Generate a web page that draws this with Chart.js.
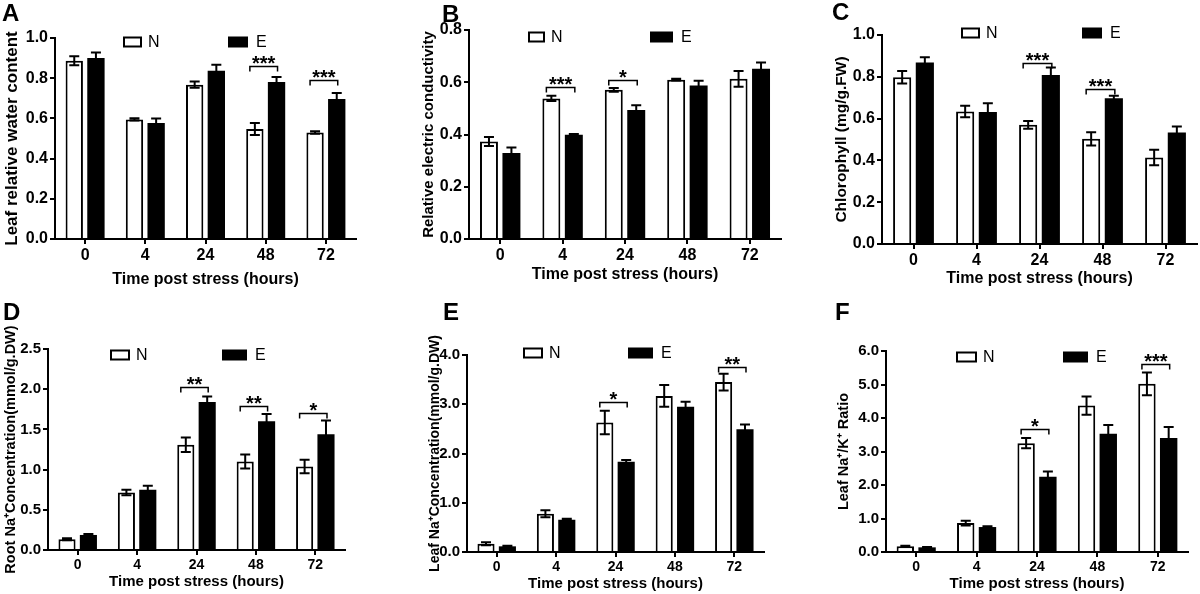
<!DOCTYPE html>
<html>
<head>
<meta charset="utf-8">
<script src="https://cdn.jsdelivr.net/npm/chart.js@4.4.1/dist/chart.umd.min.js"></script>
<style>
  body { margin: 0; background: #fff; width: 1200px; height: 594px; position: relative; overflow: hidden; }
  canvas { position: absolute; }
</style>
</head>
<body>
<canvas id="cA" width="400" height="290" style="left:0;top:0"></canvas>
<canvas id="cB" width="400" height="290" style="left:400px;top:0"></canvas>
<canvas id="cC" width="400" height="290" style="left:800px;top:0"></canvas>
<canvas id="cD" width="400" height="304" style="left:0;top:290px"></canvas>
<canvas id="cE" width="400" height="304" style="left:400px;top:290px"></canvas>
<canvas id="cF" width="400" height="304" style="left:800px;top:290px"></canvas>
<script>
const hours = ['0', '4', '24', '48', '72'];

// A - leaf relative water content
const rwcN = [0.887, 0.595, 0.768, 0.547, 0.530];
const rwcNErr = [0.022, 0.006, 0.016, 0.030, 0.006];
const rwcE = [0.900, 0.577, 0.837, 0.781, 0.697];
const rwcEErr = [0.028, 0.022, 0.030, 0.025, 0.029];
const rwcSig = [[3, 0.86, '***'], [4, 0.793, '***']];

// B - relative electric conductivity
const recN = [0.373, 0.538, 0.571, 0.610, 0.613];
const recNErr = [0.017, 0.010, 0.007, 0.003, 0.030];
const recE = [0.329, 0.399, 0.494, 0.588, 0.652];
const recEErr = [0.021, 0.003, 0.018, 0.018, 0.024];
const recSig = [[1, 0.583, '***'], [2, 0.609, '*']];

// C - chlorophyll
const chlN = [0.798, 0.634, 0.570, 0.503, 0.414];
const chlNErr = [0.030, 0.027, 0.019, 0.032, 0.037];
const chlE = [0.868, 0.631, 0.809, 0.697, 0.533];
const chlEErr = [0.025, 0.043, 0.035, 0.012, 0.029];
const chlSig = [[2, 0.865, '***'], [3, 0.742, '***']];

// D - root Na+
const rootN = [0.133, 0.714, 1.308, 1.100, 1.038];
const rootNErr = [0.012, 0.034, 0.090, 0.087, 0.083];
const rootE = [0.187, 0.748, 1.840, 1.600, 1.441];
const rootEErr = [0.012, 0.050, 0.070, 0.090, 0.170];
const rootSig = [[2, 2.03, '**'], [3, 1.79, '**'], [4, 1.71, '*']];

// E - leaf Na+
const leafN = [0.169, 0.777, 2.63, 3.17, 3.45];
const leafNErr = [0.030, 0.070, 0.24, 0.22, 0.17];
const leafE = [0.115, 0.655, 1.83, 2.95, 2.49];
const leafEErr = [0.010, 0.020, 0.04, 0.10, 0.10];
const leafSig = [[2, 3.04, '*'], [4, 3.75, '**']];

// F - leaf Na+/K+ ratio
const ratioN = [0.169, 0.864, 3.25, 4.37, 5.02];
const ratioNErr = [0.020, 0.070, 0.15, 0.27, 0.34];
const ratioE = [0.139, 0.745, 2.25, 3.53, 3.40];
const ratioEErr = [0.010, 0.020, 0.15, 0.26, 0.33];
const ratioSig = [[2, 3.66, '*'], [4, 5.61, '***']];

const FONT = "'Liberation Sans', Arial, sans-serif";

// error bars, significance brackets, legend boxes and panel letter
const deco = {
  id: 'deco',
  afterDatasetsDraw(chart, args, o) {
    const ctx = chart.ctx;
    const y = chart.scales.y;
    const nMeta = chart.getDatasetMeta(0);
    const eMeta = chart.getDatasetMeta(1);
    ctx.save();
    ctx.strokeStyle = '#000';
    ctx.fillStyle = '#000';
    ctx.lineWidth = 2;

    [o.errN, o.errE].forEach((errs, di) => {
      const meta = chart.getDatasetMeta(di);
      const vals = chart.data.datasets[di].data;
      meta.data.forEach((bar, i) => {
        const top = y.getPixelForValue(vals[i] + errs[i]);
        const bot = y.getPixelForValue(vals[i] - errs[i]);
        ctx.beginPath();
        ctx.moveTo(bar.x, top); ctx.lineTo(bar.x, bot);
        ctx.moveTo(bar.x - 5, top); ctx.lineTo(bar.x + 5, top);
        ctx.moveTo(bar.x - 5, bot); ctx.lineTo(bar.x + 5, bot);
        ctx.stroke();
      });
    });

    ctx.lineWidth = 1.5;
    ctx.font = 'bold 20px ' + FONT;
    ctx.textAlign = 'center';
    ctx.textBaseline = 'alphabetic';
    o.sig.forEach(([i, v, mark]) => {
      const x1 = nMeta.data[i].x - 5;
      const x2 = eMeta.data[i].x + 1;
      const yy = Math.round(y.getPixelForValue(v)) + 0.5;
      ctx.beginPath();
      ctx.moveTo(x1, yy + 5); ctx.lineTo(x1, yy); ctx.lineTo(x2, yy); ctx.lineTo(x2, yy + 5);
      ctx.stroke();
      ctx.fillText(mark, (x1 + x2) / 2, yy + 3);
    });

    const lg = o.legend;
    ctx.lineWidth = 2;
    ctx.strokeRect(lg.nx + 1, lg.y - 4.5, lg.nw - 2, 9);
    ctx.fillRect(lg.ex, lg.y - 5.5, lg.ew, 11);
    ctx.font = '16px ' + FONT;
    ctx.textAlign = 'left';
    ctx.textBaseline = 'middle';
    ctx.fillText('N', lg.nx + lg.nw + 6, lg.y + 1);
    ctx.fillText('E', lg.ex + lg.ew + 8, lg.y + 1);

    ctx.font = 'bold 24px ' + FONT;
    ctx.textBaseline = 'alphabetic';
    ctx.fillText(o.letter[0], o.letter[1], o.letter[2]);
    ctx.restore();
  }
};

function makePanel(id, p) {
  const tickFont = { family: FONT, size: p.tickSize, weight: 'bold' };
  new Chart(document.getElementById(id), {
    type: 'bar',
    data: {
      labels: hours,
      datasets: [
        { label: 'N', data: p.n, backgroundColor: '#fff', borderColor: '#000', borderWidth: 2 },
        { label: 'E', data: p.e, backgroundColor: '#000', borderColor: '#000', borderWidth: 0 }
      ]
    },
    options: {
      responsive: false,
      animation: false,
      events: [],
      layout: { padding: { top: p.top, right: 400 - p.right, left: 0, bottom: 0 } },
      datasets: { bar: { categoryPercentage: 0.72, barPercentage: 0.8 } },
      plugins: {
        legend: { display: false },
        tooltip: { enabled: false },
        deco: { errN: p.nErr, errE: p.eErr, sig: p.sig, legend: p.legend, letter: p.letter }
      },
      scales: {
        x: {
          grid: { offset: false, drawOnChartArea: false, tickLength: 5, lineWidth: 2, color: '#000' },
          border: { color: '#000', width: 2 },
          ticks: { color: '#000', font: { family: FONT, size: p.xTickSize, weight: 'bold' }, padding: 2 },
          title: {
            display: true, text: 'Time post stress (hours)', color: '#000',
            font: { family: FONT, size: p.xTitleSize, weight: 'bold' },
            padding: { top: 0, bottom: p.xTitlePad }
          },
          afterFit(s) { s.height = p.h - p.bottom; }
        },
        y: {
          min: 0,
          max: p.max,
          grid: { drawOnChartArea: false, tickLength: 5, lineWidth: 2, color: '#000' },
          border: { color: '#000', width: 2 },
          ticks: { stepSize: p.step, color: '#000', font: tickFont, padding: 2, callback: v => v.toFixed(1) },
          title: {
            display: true, text: p.yTitle, color: '#000',
            font: { family: FONT, size: p.yTitleSize, weight: 'bold' },
            padding: { top: p.yTitlePad, bottom: 0 }
          },
          afterFit(s) { s.width = p.left; }
        }
      }
    },
    plugins: [deco]
  });
}

const topRow = { h: 290, tickSize: 16, xTickSize: 16, xTitleSize: 16 };
const bottomRow = { h: 304, tickSize: 15, xTickSize: 14, xTitleSize: 15 };

makePanel('cA', Object.assign({}, topRow, {
  n: rwcN, nErr: rwcNErr, e: rwcE, eErr: rwcEErr, sig: rwcSig,
  max: 1.0, step: 0.2, left: 55, right: 356, top: 38, bottom: 239,
  yTitle: 'Leaf relative water content', yTitleSize: 17, yTitlePad: 2, xTitlePad: 1,
  legend: { nx: 123, ex: 228, y: 42, nw: 19, ew: 20 }, letter: ['A', 2, 21]
}));
makePanel('cB', Object.assign({}, topRow, {
  n: recN, nErr: recNErr, e: recE, eErr: recEErr, sig: recSig,
  max: 0.8, step: 0.2, left: 69, right: 381, top: 30, bottom: 239,
  yTitle: 'Relative electric conductivity', yTitleSize: 15, yTitlePad: 20, xTitlePad: 6,
  legend: { nx: 128, ex: 250, y: 37, nw: 17, ew: 23 }, letter: ['B', 42, 22]
}));
makePanel('cC', Object.assign({}, topRow, {
  n: chlN, nErr: chlNErr, e: chlE, eErr: chlEErr, sig: chlSig,
  max: 1.0, step: 0.2, left: 82, right: 397, top: 35, bottom: 244,
  yTitle: 'Chlorophyll (mg/g.FW)', yTitleSize: 15.5, yTitlePad: 32, xTitlePad: 2,
  legend: { nx: 161, ex: 282, y: 33, nw: 19, ew: 20 }, letter: ['C', 32, 20]
}));
makePanel('cD', Object.assign({}, bottomRow, {
  n: rootN, nErr: rootNErr, e: rootE, eErr: rootEErr, sig: rootSig,
  max: 2.5, step: 0.5, left: 48, right: 345, top: 59, bottom: 260,
  yTitle: 'Root Na\u207AConcentration(mmol/g.DW)', yTitleSize: 14.5, yTitlePad: 2, xTitlePad: 3,
  legend: { nx: 110, ex: 222, y: 65, nw: 20, ew: 25 }, letter: ['D', 3, 30]
}));
makePanel('cE', Object.assign({}, bottomRow, {
  n: leafN, nErr: leafNErr, e: leafE, eErr: leafEErr, sig: leafSig,
  max: 4.0, step: 1.0, left: 67, right: 364, top: 65, bottom: 262,
  yTitle: 'Leaf Na\u207AConcentration(mmol/g.DW)', yTitleSize: 14, yTitlePad: 27, xTitlePad: 1,
  legend: { nx: 123, ex: 228, y: 63, nw: 20, ew: 25 }, letter: ['E', 43, 30]
}));
makePanel('cF', Object.assign({}, bottomRow, {
  n: ratioN, nErr: ratioNErr, e: ratioE, eErr: ratioEErr, sig: ratioSig,
  max: 6.0, step: 1.0, left: 86, right: 388, top: 61, bottom: 262,
  yTitle: 'Leaf Na\u207A/K\u207A Ratio', yTitleSize: 14.5, yTitlePad: 35, xTitlePad: 1,
  legend: { nx: 156, ex: 263, y: 67, nw: 21, ew: 25 }, letter: ['F', 35, 30]
}));
</script>
</body>
</html>
